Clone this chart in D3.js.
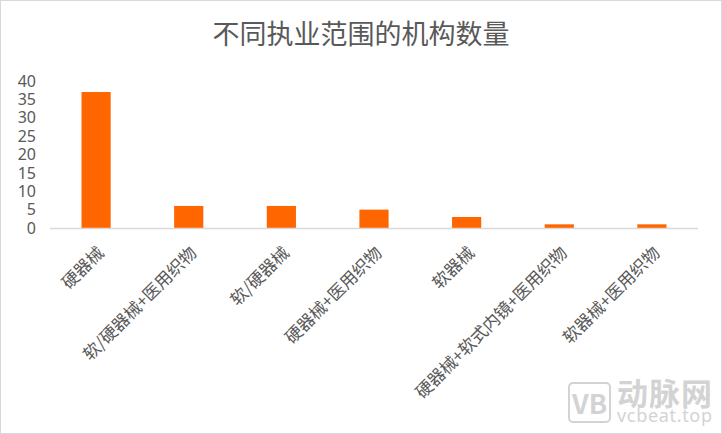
<!DOCTYPE html>
<html><head><meta charset="utf-8">
<script src="https://cdn.jsdelivr.net/npm/d3@7/dist/d3.min.js"></script>
<style>body{margin:0;background:#fff;}svg{display:block;font-family:"Noto Sans CJK SC","Noto Sans",sans-serif;}</style>
</head><body>
<script>
const categories = ["硬器械","软/硬器械+医用织物","软/硬器械","硬器械+医用织物","软器械","硬器械+软式内镜+医用织物","软器械+医用织物"];
const values = [37, 6, 6, 5, 3, 1, 1];
const yTicks = [0,5,10,15,20,25,30,35,40];
const title = "不同执业范围的机构数量";

const W = 722, H = 434;
const svg = d3.select("body").append("svg").attr("width", W).attr("height", H);
svg.append("rect").attr("x",0.5).attr("y",0.5).attr("width",W-1).attr("height",H-1)
  .attr("fill","#fff").attr("stroke","#d9d9d9");

const m = {left:50, right:24};
const x = d3.scaleBand().domain(categories).range([m.left, W-m.right]).paddingInner(0.685).paddingOuter(0.34);
const y = d3.scaleLinear().domain([0,40]).range([228, 81]);

svg.append("text").attr("x",361).attr("y",44).attr("text-anchor","middle")
  .attr("font-size",27).attr("fill","#595959").text(title);

svg.selectAll("rect.bar").data(values).join("rect").attr("class","bar")
  .attr("x",(d,i)=>x(categories[i])).attr("width",x.bandwidth())
  .attr("y",d=>y(d)).attr("height",d=>y(0)-y(d)).attr("fill","#ff6600");

svg.append("line").attr("x1",m.left).attr("x2",W-m.right).attr("y1",y(0)+0.5).attr("y2",y(0)+0.5)
  .attr("stroke","#d9d9d9").attr("stroke-width",1.5);

const yAxis = d3.axisLeft(y).tickValues(yTicks).tickSize(0).tickPadding(0);
const gy = svg.append("g").attr("transform","translate(36,0)").call(yAxis);
gy.select(".domain").remove();
gy.selectAll("text").attr("font-size",16).attr("fill","#595959").attr("font-family","\"Noto Sans\",sans-serif");

const gx = svg.append("g");
gx.selectAll("text").data(categories).join("text")
  .attr("transform",d=>`translate(${x(d)+x.bandwidth()/2+9},${y(0)+26}) rotate(-45)`)
  .attr("text-anchor","end").attr("font-size",17).attr("fill","#595959").text(d=>d);

// watermark
const wm = svg.append("g").attr("fill","#d3d3d3");
wm.append("rect").attr("x",569).attr("y",383).attr("width",41).attr("height",39).attr("rx",4)
  .attr("fill","none").attr("stroke","#d3d3d3").attr("stroke-width",2);
wm.append("text").attr("x",589.5).attr("y",414).attr("text-anchor","middle").attr("font-size",27).attr("font-weight","bold").text("VB");
wm.append("text").attr("x",617).attr("y",405).attr("font-size",31).attr("font-weight","bold").attr("textLength",95).text("动脉网");
wm.append("text").attr("x",617).attr("y",422).attr("font-size",18).attr("font-family","\"Noto Sans\",sans-serif").attr("textLength",95).text("vcbeat.top");
</script>
</body></html>
